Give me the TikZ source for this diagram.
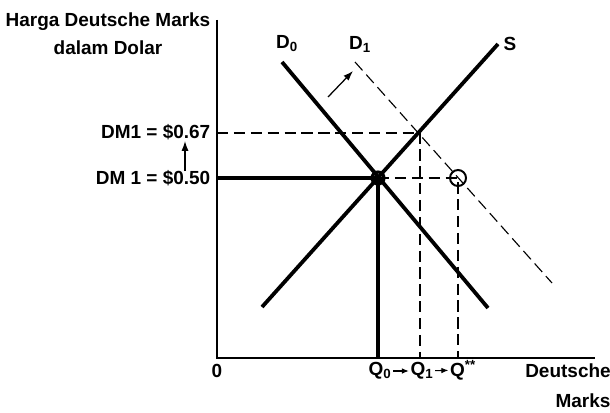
\documentclass[tikz,border=0pt]{standalone}
\usepackage{fontspec}
\setmainfont{Liberation Sans}
\usetikzlibrary{arrows.meta,positioning,calc}
\tikzset{
  curve/.style={line width=2.7pt},
  shifted/.style={dash pattern=on 8pt off 4pt, line width=0.8pt},
  guide/.style={dash pattern=on 8pt off 4pt, line width=0.8pt},
  axis/.style={line width=1.4pt},
  lbl/.style={font=\bfseries\fontsize{13.5}{16}\selectfont, inner sep=1pt},
  arr/.style={-{Latex[length=7pt,width=5pt]}, line width=0.9pt},
  qarr/.style={-{Latex[length=5pt,width=4pt]}, line width=0.8pt}
}

\begin{document}
\begin{tikzpicture}[x=0.025cm, y=-0.025cm]
  \useasboundingbox (0,0) rectangle (610,413);
  % axes
  \coordinate (o) at (217,358);
  \coordinate (ytop) at (217,20);
  \coordinate (xend) at (595,358);
  \draw[axis] (ytop) -- (o) -- (xend);
  % points
  \coordinate (e0) at (378,178);
  \coordinate (e1) at (420,133);
  \coordinate (e2) at (458,178);
  \coordinate (p67) at (217,133);
  \coordinate (p50) at (217,178);
  \coordinate (q0) at (378,358);
  \coordinate (q1) at (420,358);
  \coordinate (q2) at (458,358);
  % curve ends
  \coordinate (d0a) at (282,62);
  \coordinate (d0b) at (488,308);
  \coordinate (sa) at (262,307);
  \coordinate (sb) at (498,44);
  \coordinate (d1a) at (355,62);
  \coordinate (d1b) at (552,283);
  % guides
  \draw[guide] (p67) -- (e1) -- (q1);
  \draw[guide] (e0) -- (e2) -- (q2);
  \draw[curve] (p50) -- (e0) -- (q0);
  % curves
  \draw[curve] (d0a) -- (d0b);
  \draw[curve] (sa) -- (sb);
  \draw[shifted] (d1a) -- (d1b);
  \draw[line width=2.2pt] (e0) circle[radius=6];
  \draw[line width=1.4pt] (e2) circle[radius=8];
  % labels
  \node[lbl] (ytitle) at (108,22) {Harga Deutsche Marks};
  \node[lbl] (ytitle2) at (108,48) {dalam Dolar};
  \node[lbl, anchor=east] (dm67) at (212,132) {DM1 = \$0.67};
  \node[lbl, anchor=east] (dm50) at (212,178) {DM 1 = \$0.50};
  \coordinate (ua) at (185,171);
  \coordinate (ub) at (185,141);
  \draw[arr] (ua) -- (ub);
  \node[lbl] (d0lbl) at (287,44) {D\textsubscript{0}};
  \node[lbl] (d1lbl) at (360,44) {D\textsubscript{1}};
  \node[lbl] (slbl) at (510,44) {S};
  \coordinate (sha) at (328,97);
  \coordinate (shb) at (353,71);
  \draw[arr] (sha) -- (shb);
  \node[lbl] (zero) at (217,371) {0};
  \node[lbl] (q0lbl) at (380,371) {Q\textsubscript{0}};
  \node[lbl] (q1lbl) at (422,371) {Q\textsubscript{1}};
  \node[lbl] (q2lbl) at (463,370) {Q\textsuperscript{**}};
  \draw[qarr] (q0lbl) -- (q1lbl);
  \draw[qarr] (q1lbl) -- (q2lbl);
  \node[lbl] (xtitle) at (568,371) {Deutsche};
  \node[lbl] (xtitle2) at (583,401) {Marks};
\end{tikzpicture}
\end{document}
